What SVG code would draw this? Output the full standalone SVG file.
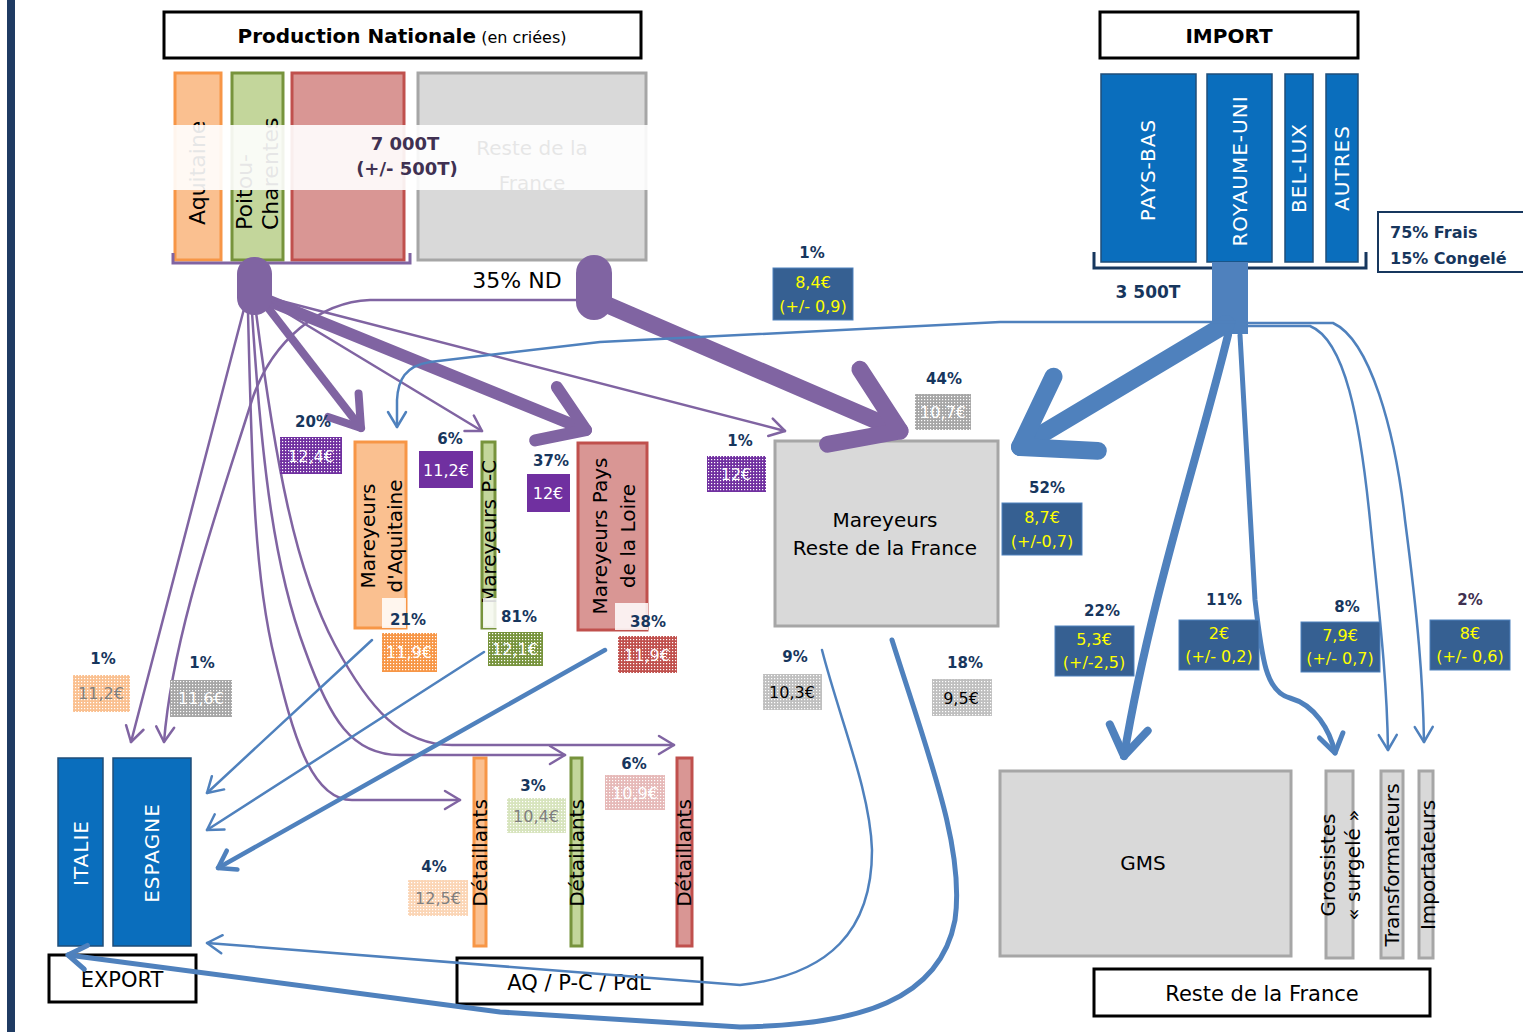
<svg xmlns="http://www.w3.org/2000/svg" width="1523" height="1032" viewBox="0 0 1523 1032">
<defs>
<style>
text{font-family:"DejaVu Sans","Liberation Sans",sans-serif}
.pct{font-weight:bold;font-size:15px;fill:#17365d;text-anchor:middle}
.py{font-size:16px;fill:#ffff00;text-anchor:middle}
.pw{font-size:16px;fill:#ffffff;text-anchor:middle}
.pg{font-size:16px;fill:#7f7f7f;text-anchor:middle}
.pk{font-size:16px;fill:#000000;text-anchor:middle}
.bl{fill:#366092;stroke:#4f81bd;stroke-width:1}
.hdr{fill:#fff;stroke:#000;stroke-width:3}
.cty{fill:#0a6ebd;stroke:#1f4e79;stroke-width:1.5}
.ctyt{font-size:20px;fill:#fff;text-anchor:middle;dominant-baseline:central;letter-spacing:1px}
.lbl{font-size:20px;fill:#000;text-anchor:middle;dominant-baseline:central}
.gray{fill:#d9d9d9;stroke:#a6a6a6;stroke-width:3}
.pu{fill:none;stroke:#8064a2;stroke-linecap:round;stroke-linejoin:round}
.bu{fill:none;stroke:#4f81bd;stroke-linecap:round;stroke-linejoin:round}
</style>
<pattern id="dots" width="3" height="3" patternUnits="userSpaceOnUse"><rect x="0" y="0" width="1.2" height="1.2" fill="#fff"/></pattern>
<marker id="pThin" markerUnits="strokeWidth" markerWidth="10" markerHeight="10" refX="0" refY="0" orient="auto" overflow="visible"><path d="M-6,-3.6 L0,0 L-6,3.6" fill="none" stroke="#8064a2" stroke-width="1" stroke-linecap="round" stroke-linejoin="round"/></marker>
<marker id="pThick" markerUnits="strokeWidth" markerWidth="10" markerHeight="10" refX="0" refY="0" orient="auto" overflow="visible"><path d="M-3.6,-2.4 L0,0 L-3.6,2.4" fill="none" stroke="#8064a2" stroke-width="1" stroke-linecap="round" stroke-linejoin="round"/></marker>
<marker id="bThin" markerUnits="strokeWidth" markerWidth="10" markerHeight="10" refX="0" refY="0" orient="auto" overflow="visible"><path d="M-6,-3.6 L0,0 L-6,3.6" fill="none" stroke="#4f81bd" stroke-width="1" stroke-linecap="round" stroke-linejoin="round"/></marker>
<marker id="bThick" markerUnits="strokeWidth" markerWidth="10" markerHeight="10" refX="0" refY="0" orient="auto" overflow="visible"><path d="M-3.6,-2.4 L0,0 L-3.6,2.4" fill="none" stroke="#4f81bd" stroke-width="1" stroke-linecap="round" stroke-linejoin="round"/></marker>
</defs>
<rect width="1523" height="1032" fill="#fff"/>
<rect x="7" y="0" width="8" height="1032" fill="#1f3b63"/>

<!-- Production nationale -->
<g id="production">
<rect class="hdr" x="164" y="12" width="477" height="46"/>
<text x="402" y="43" text-anchor="middle"><tspan font-weight="bold" font-size="20">Production Nationale</tspan><tspan font-size="16"> (en criées)</tspan></text>
<rect x="175" y="73" width="46" height="187" fill="#fac090" stroke="#f79646" stroke-width="3"/>
<rect x="232" y="73" width="51" height="187" fill="#c3d69b" stroke="#77933c" stroke-width="3"/>
<rect x="292" y="73" width="112" height="187" fill="#d99694" stroke="#c0504d" stroke-width="3"/>
<rect class="gray" x="418" y="73" width="228" height="187"/>
<text transform="translate(205,225) rotate(-90)" font-size="22">Aquitaine</text>
<text transform="translate(252,230) rotate(-90)" font-size="22">Poitou-</text>
<text transform="translate(278,230) rotate(-90)" font-size="22">Charentes</text>
<text x="532" y="155" font-size="20" text-anchor="middle">Reste de la</text>
<text x="532" y="190" font-size="20" text-anchor="middle">France</text>
<rect x="172" y="125" width="476" height="65" fill="#fff" opacity="0.9"/>
<text x="405" y="150" font-size="18" font-weight="bold" fill="#403152" text-anchor="middle">7 000T</text>
<text x="407" y="175" font-size="18" font-weight="bold" fill="#403152" text-anchor="middle">(+/- 500T)</text>
<path d="M173,253 L173,263 L410,263 L410,253" fill="none" stroke="#8064a2" stroke-width="3"/>
<text x="517" y="288" font-size="22" text-anchor="middle">35% ND</text>
</g>

<!-- Import -->
<g id="import">
<rect class="hdr" x="1100" y="12" width="258" height="46"/>
<text x="1229" y="43" text-anchor="middle" font-weight="bold" font-size="20">IMPORT</text>
<rect class="cty" x="1101" y="74" width="95" height="188"/>
<rect class="cty" x="1207" y="74" width="65" height="188"/>
<rect class="cty" x="1285" y="74" width="28" height="188"/>
<rect class="cty" x="1326" y="74" width="32" height="188"/>
<text class="ctyt" transform="translate(1148,170) rotate(-90)">PAYS-BAS</text>
<text class="ctyt" transform="translate(1240,171) rotate(-90)">ROYAUME-UNI</text>
<text class="ctyt" transform="translate(1299,168) rotate(-90)">BEL-LUX</text>
<text class="ctyt" transform="translate(1342,168) rotate(-90)">AUTRES</text>
<path d="M1094,252 L1094,268 L1366,268 L1366,252" fill="none" stroke="#17375e" stroke-width="3"/>
<text x="1148" y="298" font-size="17" font-weight="bold" fill="#17365d" text-anchor="middle">3 500T</text>
<rect x="1378" y="212" width="150" height="60" fill="#fff" stroke="#17375e" stroke-width="2"/>
<text x="1390" y="238" font-size="16" font-weight="bold" fill="#17365d">75% Frais</text>
<text x="1390" y="264" font-size="16" font-weight="bold" fill="#17365d">15% Congelé</text>
</g>

<!-- Mareyeurs -->
<g id="mareyeurs-aquitaine">
<rect x="355" y="442" width="51" height="186" fill="#fac090" stroke="#f79646" stroke-width="3"/>
<text class="lbl" transform="translate(368,536) rotate(-90)">Mareyeurs</text>
<text class="lbl" transform="translate(395,536) rotate(-90)">d'Aquitaine</text>
</g>
<g id="mareyeurs-pc">
<rect x="482" y="442" width="13" height="186" fill="#c3d69b" stroke="#77933c" stroke-width="3"/>
<text class="lbl" transform="translate(489,532) rotate(-90)">Mareyeurs P-C</text>
</g>
<g id="mareyeurs-pdl">
<rect x="578" y="443" width="69" height="187" fill="#d99694" stroke="#c0504d" stroke-width="3"/>
<text class="lbl" transform="translate(600,536) rotate(-90)">Mareyeurs Pays</text>
<text class="lbl" transform="translate(628,536) rotate(-90)">de la Loire</text>
</g>
<g id="mareyeurs-rdf">
<rect class="gray" x="775" y="441" width="223" height="185"/>
<text class="lbl" x="885" y="520">Mareyeurs</text>
<text class="lbl" x="885" y="548">Reste de la France</text>
</g>

<!-- Export -->
<g id="export">
<rect class="cty" x="58" y="758" width="45" height="188"/>
<rect class="cty" x="113" y="758" width="78" height="188"/>
<text class="ctyt" transform="translate(81,853) rotate(-90)">ITALIE</text>
<text class="ctyt" transform="translate(152,853) rotate(-90)">ESPAGNE</text>
<rect class="hdr" x="49" y="955" width="147" height="47"/>
<text x="122" y="987" font-size="21" text-anchor="middle">EXPORT</text>
</g>

<!-- Détaillants -->
<g id="detaillants">
<rect x="474" y="758" width="12" height="188" fill="#fac090" stroke="#f79646" stroke-width="3"/>
<rect x="571" y="758" width="11" height="188" fill="#c3d69b" stroke="#77933c" stroke-width="3"/>
<rect x="677" y="758" width="15" height="188" fill="#d99694" stroke="#c0504d" stroke-width="3"/>
<text class="lbl" transform="translate(480,853) rotate(-90)">Détaillants</text>
<text class="lbl" transform="translate(577,853) rotate(-90)">Détaillants</text>
<text class="lbl" transform="translate(684,853) rotate(-90)">Détaillants</text>
<rect class="hdr" x="457" y="958" width="245" height="46"/>
<text x="579" y="990" font-size="21" text-anchor="middle">AQ / P-C / PdL</text>
</g>

<!-- Reste de la France -->
<g id="reste-france">
<rect class="gray" x="1000" y="771" width="291" height="185"/>
<text class="lbl" x="1143" y="863">GMS</text>
<rect class="gray" x="1326" y="771" width="27" height="187"/>
<rect class="gray" x="1381" y="771" width="22" height="187"/>
<rect class="gray" x="1419" y="771" width="14" height="187"/>
<text class="lbl" transform="translate(1328,865) rotate(-90)">Grossistes</text>
<text class="lbl" transform="translate(1353,865) rotate(-90)">« surgelé »</text>
<text class="lbl" transform="translate(1392,865) rotate(-90)">Transformateurs</text>
<text class="lbl" transform="translate(1428,865) rotate(-90)">Importateurs</text>
<rect class="hdr" x="1094" y="969" width="336" height="47"/>
<text x="1262" y="1001" font-size="21" text-anchor="middle">Reste de la France</text>
</g>

<!-- Connectors -->
<g id="connectors">
<path class="pu" stroke-width="8" d="M262,300 L361,428" marker-end="url(#pThick)"/>
<path class="pu" stroke-width="12" d="M262,298 L586,430" marker-end="url(#pThick)"/>
<path class="pu" stroke-width="2.5" d="M262,298 L482,431" marker-end="url(#pThin)"/>
<path class="pu" stroke-width="2.5" d="M262,296 L785,431" marker-end="url(#pThin)"/>
<path class="pu" stroke-width="2.5" d="M245,305 L131,742" marker-end="url(#pThin)"/>
<path class="pu" stroke-width="2.5" d="M588,300 L370,300 C320,302 272,340 252,400 C214,520 172,640 164,742" marker-end="url(#pThin)"/>
<path class="pu" stroke-width="2.5" d="M248,312 C252,480 255,580 275,660 C292,730 310,800 352,800 L460,800" marker-end="url(#pThin)"/>
<path class="pu" stroke-width="2.5" d="M252,312 C262,470 275,570 305,650 C330,720 352,755 400,755 L565,755" marker-end="url(#pThin)"/>
<path class="pu" stroke-width="2.5" d="M256,312 C275,460 295,570 335,645 C370,710 402,745 452,745 L674,745" marker-end="url(#pThin)"/>
<path class="pu" stroke-width="17" d="M596,300 L900,431" marker-end="url(#pThick)"/>
<rect x="237" y="257" width="35" height="58" rx="17" fill="#8064a2"/>
<rect x="576" y="255" width="36" height="65" rx="18" fill="#8064a2"/>
<rect x="1212" y="262" width="36" height="72" fill="#4f81bd"/>
<path class="bu" stroke-width="18" d="M1226,324 L1020,447" marker-end="url(#bThick)"/>
<path class="bu" stroke-width="2.5" d="M1235,322 L1000,322 L600,342 L430,362 C405,366 398,380 397,400 L397,427" marker-end="url(#bThin)"/>
<path class="bu" stroke-width="8" d="M1228,335 C1200,450 1150,600 1124,756" marker-end="url(#bThick)"/>
<path class="bu" stroke-width="5" d="M1240,335 L1255,600 C1262,660 1266,692 1290,698 C1315,705 1330,730 1335,753" marker-end="url(#bThick)"/>
<path class="bu" stroke-width="2.5" d="M1247,326 L1310,326 C1345,340 1360,420 1370,520 C1380,620 1387,680 1388,750" marker-end="url(#bThin)"/>
<path class="bu" stroke-width="2.5" d="M1247,323 L1333,323 C1370,340 1395,430 1405,520 C1418,620 1423,680 1424,742" marker-end="url(#bThin)"/>
<path class="bu" stroke-width="2.5" d="M822,650 C840,720 870,790 872,850 C872,930 830,975 740,985 L207,943" marker-end="url(#bThin)"/>
<path class="bu" stroke-width="5" d="M892,640 C930,760 965,850 955,920 C940,1000 860,1025 740,1027 L500,1012 L68,955" marker-end="url(#bThick)"/>
<path class="bu" stroke-width="2.5" d="M372,640 L207,793" marker-end="url(#bThin)"/>
<path class="bu" stroke-width="2.5" d="M484,652 L207,830" marker-end="url(#bThin)"/>
<path class="bu" stroke-width="4.5" d="M605,650 L218,868" marker-end="url(#bThick)"/>
</g>

<!-- Labels -->
<g id="labels">
<text class="pct" x="812" y="258">1%</text>
<rect class="bl" x="773" y="268" width="80" height="52"/>
<text class="py" x="813" y="288">8,4€</text>
<text class="py" x="813" y="312">(+/- 0,9)</text>

<text class="pct" x="944" y="384">44%</text>
<rect x="915" y="394" width="56" height="36" fill="#a6a6a6"/><rect x="915" y="394" width="56" height="36" fill="url(#dots)"/>
<text class="pw" x="943" y="418">10,7€</text>

<text class="pct" x="740" y="446">1%</text>
<rect x="707" y="456" width="59" height="36" fill="#7030a0"/><rect x="707" y="456" width="59" height="36" fill="url(#dots)"/>
<text class="pw" x="736" y="480">12€</text>

<text class="pct" x="1047" y="493">52%</text>
<rect class="bl" x="1002" y="503" width="80" height="52"/>
<text class="py" x="1042" y="523">8,7€</text>
<text class="py" x="1042" y="547">(+/-0,7)</text>

<text class="pct" x="313" y="427">20%</text>
<rect x="280" y="437" width="62" height="37" fill="#7030a0"/><rect x="280" y="437" width="62" height="37" fill="url(#dots)"/>
<text class="pw" x="311" y="462">12,4€</text>

<text class="pct" x="450" y="444">6%</text>
<rect x="419" y="451" width="54" height="37" fill="#7030a0"/>
<text class="pw" x="446" y="476">11,2€</text>

<text class="pct" x="551" y="466">37%</text>
<rect x="527" y="474" width="43" height="38" fill="#7030a0"/>
<text class="pw" x="548" y="499">12€</text>

<rect x="382" y="598" width="24" height="30" fill="#fff" opacity="0.85"/>
<text class="pct" x="408" y="625">21%</text>
<rect x="382" y="633" width="55" height="39" fill="#f79646"/><rect x="382" y="633" width="55" height="39" fill="url(#dots)"/>
<text class="pw" x="409" y="658">11,9€</text>

<rect x="483" y="598" width="14" height="30" fill="#fff" opacity="0.85"/>
<text class="pct" x="519" y="622">81%</text>
<rect x="488" y="632" width="55" height="34" fill="#77933c"/><rect x="488" y="632" width="55" height="34" fill="url(#dots)"/>
<text class="pw" x="515" y="655">12,1€</text>

<rect x="615" y="603" width="33" height="27" fill="#fff" opacity="0.85"/>
<text class="pct" x="648" y="627">38%</text>
<rect x="618" y="636" width="59" height="37" fill="#c0504d"/><rect x="618" y="636" width="59" height="37" fill="url(#dots)"/>
<text class="pw" x="647" y="661">11,9€</text>

<text class="pct" x="103" y="664">1%</text>
<rect x="73" y="675" width="57" height="37" fill="#fac090"/><rect x="73" y="675" width="57" height="37" fill="url(#dots)"/>
<text class="pg" x="101" y="699">11,2€</text>

<text class="pct" x="202" y="668">1%</text>
<rect x="170" y="680" width="62" height="37" fill="#a6a6a6"/><rect x="170" y="680" width="62" height="37" fill="url(#dots)"/>
<text class="pw" x="201" y="704">11,6€</text>

<text class="pct" x="795" y="662">9%</text>
<rect x="763" y="674" width="59" height="36" fill="#bfbfbf"/><rect x="763" y="674" width="59" height="36" fill="url(#dots)"/>
<text class="pk" x="792" y="698">10,3€</text>

<text class="pct" x="965" y="668">18%</text>
<rect x="932" y="679" width="60" height="37" fill="#bfbfbf"/><rect x="932" y="679" width="60" height="37" fill="url(#dots)"/>
<text class="pk" x="961" y="704">9,5€</text>

<text class="pct" x="1102" y="616">22%</text>
<rect class="bl" x="1055" y="626" width="79" height="50"/>
<text class="py" x="1094" y="645">5,3€</text>
<text class="py" x="1094" y="668">(+/-2,5)</text>

<text class="pct" x="1224" y="605">11%</text>
<rect class="bl" x="1179" y="620" width="80" height="50"/>
<text class="py" x="1219" y="639">2€</text>
<text class="py" x="1219" y="662">(+/- 0,2)</text>

<text class="pct" x="1347" y="612">8%</text>
<rect class="bl" x="1301" y="622" width="79" height="50"/>
<text class="py" x="1340" y="641">7,9€</text>
<text class="py" x="1340" y="664">(+/- 0,7)</text>

<text class="pct" x="1470" y="605" fill="#3f3151" style="fill:#3f3151">2%</text>
<rect class="bl" x="1430" y="620" width="80" height="50"/>
<text class="py" x="1470" y="639">8€</text>
<text class="py" x="1470" y="662">(+/- 0,6)</text>

<text class="pct" x="634" y="769">6%</text>
<rect x="605" y="775" width="60" height="35" fill="#e6b9b8"/><rect x="605" y="775" width="60" height="35" fill="url(#dots)"/>
<text class="pw" x="635" y="799">10,9€</text>

<text class="pct" x="533" y="791">3%</text>
<rect x="507" y="798" width="59" height="35" fill="#d7e4bd"/><rect x="507" y="798" width="59" height="35" fill="url(#dots)"/>
<text class="pg" x="536" y="822">10,4€</text>

<text class="pct" x="434" y="872">4%</text>
<rect x="408" y="880" width="60" height="36" fill="#fbd5b5"/><rect x="408" y="880" width="60" height="36" fill="url(#dots)"/>
<text class="pg" x="438" y="904">12,5€</text>
</g>
</svg>
